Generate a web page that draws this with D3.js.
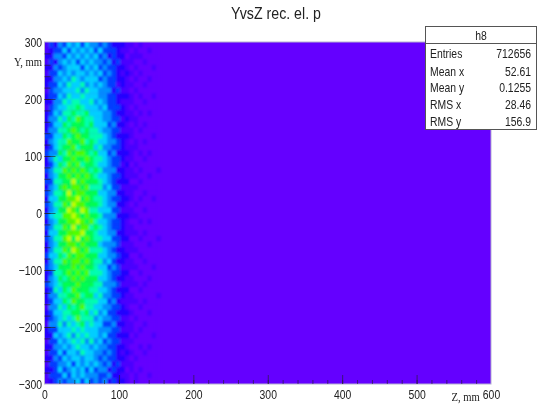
<!DOCTYPE html>
<html><head><meta charset="utf-8">
<script src="https://cdn.jsdelivr.net/npm/d3@7/dist/d3.min.js"></script>
<style>html,body{margin:0;background:#fff}svg{display:block;filter:blur(.4px)}text{font-family:"Liberation Sans",sans-serif;fill:#222}</style>
</head><body><div id="c"></div>
<script>
const titleText="YvsZ rec. el. p";
const xTicks=[0,100,200,300,400,500,600];
const yTicks=[-300,-200,-100,0,100,200,300];
const statLabels=["Entries","Mean x","Mean y","RMS x","RMS y"];
const statValues=["712656","52.61","0.1255","28.46","156.9"];
const binWidthZ=6, binHeightY=10;
// estimated colour level per bin; rows run from Y=+300 down to Y=-300, columns from Z=0 upward
const density=[
[1,3,2,4,3,5,4,5,3,5,4,4,3,4,3,2,2,2,1,1,0,1,0,0,0,0],
[1,2,3,3,5,3,5,4,5,4,5,3,5,3,3,3,2,1,1,0,1,0,0,1,0,0],
[2,2,4,4,3,5,4,5,4,5,4,5,3,4,2,3,2,2,0,1,1,1,0,0,0,0],
[1,3,2,4,5,4,5,3,5,4,5,4,4,3,4,2,3,1,1,1,0,0,1,0,0,0],
[2,2,4,3,4,5,5,5,3,5,4,5,3,4,3,3,2,2,1,0,1,0,0,0,1,0],
[1,3,3,5,4,5,4,5,5,4,5,4,5,3,4,3,2,1,2,1,0,1,0,0,0,0],
[2,2,4,4,5,4,6,5,4,5,5,5,3,4,3,3,2,2,1,0,1,0,0,1,0,0],
[2,3,3,5,4,6,5,5,6,4,5,4,5,4,3,3,1,2,1,1,0,0,1,0,0,0],
[1,3,4,4,5,5,5,6,4,6,5,5,4,4,4,2,3,1,1,0,1,0,0,0,0,0],
[2,3,3,5,4,6,5,5,6,5,5,5,4,4,3,3,2,2,2,1,0,1,0,0,1,0],
[2,2,4,4,6,5,6,6,5,5,6,4,5,4,3,3,2,1,1,1,0,0,1,0,0,0],
[1,3,4,5,5,6,6,7,6,5,5,5,4,5,3,3,3,2,1,0,1,0,0,0,0,0],
[2,3,5,4,6,6,7,6,6,7,5,5,5,4,4,3,2,2,1,1,0,1,0,1,0,0],
[2,4,4,6,5,7,6,8,7,6,6,5,5,4,4,3,3,1,2,1,1,0,0,0,0,0],
[2,3,5,5,7,6,7,7,7,6,7,5,5,5,3,4,2,2,1,0,1,0,1,0,0,0],
[2,4,4,6,6,7,8,7,6,7,6,6,5,4,4,3,3,1,1,1,0,1,0,0,0,0],
[3,3,5,5,7,6,7,8,7,7,6,6,6,5,4,3,2,2,2,1,0,0,0,0,1,0],
[2,4,5,6,6,8,7,7,8,6,7,6,5,5,4,4,3,2,1,0,1,0,1,0,0,0],
[2,3,5,6,7,7,8,6,7,7,7,5,6,4,4,3,3,2,1,1,1,0,0,0,0,0],
[3,4,4,7,6,8,7,8,8,7,6,7,5,5,3,4,2,2,2,1,0,1,0,1,0,0],
[2,4,6,5,7,7,8,7,7,8,7,6,6,5,4,3,3,2,1,1,0,0,1,0,0,0],
[2,3,5,7,6,8,7,8,6,7,7,6,5,5,4,3,3,1,2,0,1,0,0,0,0,0],
[3,4,6,6,8,7,8,7,8,7,6,7,6,4,4,4,2,2,1,1,0,1,0,0,0,1],
[2,4,5,7,7,8,7,8,7,8,7,6,5,5,4,3,3,2,1,1,1,0,0,1,0,0],
[3,3,6,6,7,7,9,7,8,7,7,7,6,5,4,3,2,2,2,0,0,1,0,0,0,0],
[2,4,5,7,8,7,8,8,7,8,6,6,6,4,5,3,3,1,1,1,1,0,0,0,0,0],
[3,4,6,6,7,9,7,8,8,7,7,7,5,5,4,4,2,2,1,1,0,0,1,0,0,0],
[2,5,5,7,7,8,8,9,7,8,7,6,6,5,4,3,3,2,2,1,0,1,0,0,1,0],
[3,4,6,6,8,7,9,8,8,7,7,7,6,5,4,4,2,2,1,0,1,0,0,0,0,0],
[2,4,5,7,7,9,8,7,9,8,6,6,5,5,5,3,3,1,1,1,0,0,1,0,0,0],
[3,5,6,6,8,8,9,8,7,8,7,7,6,4,4,4,2,2,2,1,1,0,0,0,0,0],
[2,4,5,7,7,8,8,9,8,7,8,6,5,5,4,3,3,2,1,0,0,1,0,1,0,0],
[3,4,6,6,8,7,9,7,8,8,6,7,6,5,4,3,3,2,1,1,0,0,0,0,0,0],
[2,5,5,7,7,8,8,8,9,7,7,6,5,5,4,4,2,2,1,1,1,0,1,0,0,0],
[3,4,6,6,8,9,7,9,7,8,7,6,6,5,5,3,3,2,2,0,0,1,0,0,0,1],
[2,4,5,7,7,8,8,7,8,7,7,7,5,4,4,4,3,1,1,1,0,0,0,1,0,0],
[2,4,6,6,8,7,9,8,7,8,6,6,6,5,4,3,2,2,1,1,1,0,0,0,0,0],
[3,5,5,7,6,8,7,8,8,7,7,7,5,5,4,4,3,2,2,0,0,1,0,0,0,0],
[2,4,6,6,8,7,8,8,7,8,7,6,6,4,5,3,2,2,1,1,0,0,1,0,0,0],
[3,4,5,7,7,7,8,7,8,7,7,6,5,5,3,4,3,1,1,1,1,0,0,0,1,0],
[2,3,6,6,7,8,7,8,7,8,6,6,6,5,4,3,3,2,2,0,0,1,0,0,0,0],
[2,4,5,7,6,7,8,7,8,7,7,7,5,5,4,3,2,2,1,1,0,0,0,1,0,0],
[3,4,5,6,7,7,7,8,7,7,7,6,6,4,4,4,3,1,1,1,1,0,1,0,0,0],
[2,3,6,5,7,6,8,7,7,7,6,6,5,5,4,3,2,2,2,0,0,1,0,0,0,0],
[2,4,4,6,6,7,7,8,6,7,7,5,6,4,4,3,3,2,1,1,0,0,0,0,0,1],
[2,3,5,5,7,6,8,7,7,6,6,6,5,5,3,4,2,1,1,1,1,0,1,0,0,0],
[1,4,4,6,5,7,6,7,8,6,6,5,5,4,4,3,3,2,1,0,0,1,0,0,0,0],
[2,3,5,5,6,6,7,7,6,7,5,6,4,5,3,3,2,2,2,1,0,0,0,1,0,0],
[2,3,4,5,6,5,6,8,6,6,6,4,5,4,4,3,3,1,1,0,1,0,0,0,0,0],
[1,4,4,6,4,6,5,6,7,5,6,5,5,3,3,4,2,2,1,1,0,0,1,0,0,0],
[2,3,3,5,5,5,6,5,6,5,5,5,4,4,4,3,3,1,1,1,0,1,0,0,0,0],
[2,2,5,4,5,6,4,6,5,6,5,5,4,5,3,3,2,2,2,0,1,0,0,0,1,0],
[1,3,3,5,4,5,6,5,6,4,6,4,5,3,4,3,3,1,1,1,0,0,0,0,0,0],
[2,2,4,4,5,4,5,6,5,5,4,5,4,4,3,3,2,2,1,0,0,1,0,1,0,0],
[1,3,3,5,3,5,5,4,6,5,5,4,4,3,4,3,2,1,2,1,0,0,1,0,0,0],
[2,2,4,3,5,4,5,5,4,5,5,4,3,4,3,3,2,2,1,0,1,0,0,0,0,0],
[1,3,3,4,4,5,3,5,4,5,4,5,4,3,4,2,3,1,1,1,0,0,0,0,0,0],
[2,2,3,5,3,4,5,4,5,3,5,3,4,4,2,3,2,2,0,1,0,1,0,0,0,0],
[1,3,3,3,5,3,5,4,5,4,4,4,3,3,4,2,2,1,1,0,1,0,0,1,0,0],
[1,2,3,4,3,4,4,5,3,5,3,4,3,4,2,3,2,2,1,0,1,0,0,0,0,0]
];
const levelColors=["#6400ff","#4800ff","#2400ff","#0040ff","#0090ff","#00d0ff","#00ffb0","#00ff50","#50ff00","#c0ff00"];

const W=543,H=409,L=44.5,R=491,T=42,B=384;
const svg=d3.select("#c").append("svg").attr("width",W).attr("height",H);
const x=d3.scaleLinear().domain([0,600]).range([L,R]);
const y=d3.scaleLinear().domain([-300,300]).range([B,T]);
const color=d3.scaleOrdinal().domain(d3.range(levelColors.length)).range(levelColors);

const defs=svg.append("defs");
defs.append("clipPath").attr("id","pa").append("rect").attr("x",L).attr("y",T).attr("width",R-L).attr("height",B-T);
const f=defs.append("filter").attr("id","soft").attr("x","-5%").attr("y","-5%").attr("width","110%").attr("height","110%");
f.append("feGaussianBlur").attr("stdDeviation","1.1 1.3");

const plot=svg.append("g").attr("clip-path","url(#pa)");
plot.append("rect").attr("x",L).attr("y",T).attr("width",R-L).attr("height",B-T).attr("fill",levelColors[0]);
const cells=plot.append("g").attr("filter","url(#soft)");
density.forEach((row,i)=>row.forEach((v,j)=>{
  const z0=j*binWidthZ-(j==0?binWidthZ:0), yTop=300-i*binHeightY;
  cells.append("rect")
    .attr("x",x(z0)).attr("y",y(yTop+(i==0?binHeightY:0)))
    .attr("width",x(j*binWidthZ+binWidthZ)-x(z0)+.3)
    .attr("height",y(yTop-binHeightY)-y(yTop+(i==0?binHeightY:0))+.3)
    .attr("fill",color(v));
}));
// frame
svg.append("rect").attr("x",L).attr("y",T).attr("width",R-L).attr("height",B-T).attr("fill","none").attr("stroke","#b4afd0").attr("stroke-width",1);

// minor + major ticks, drawn inward as in the reference
const gx=svg.append("g").attr("transform",`translate(0,${B})`);
gx.call(d3.axisBottom(x).tickValues(d3.range(20,600,20)).tickSize(-4).tickFormat(""));
const gxM=svg.append("g").attr("transform",`translate(0,${B})`);
gxM.call(d3.axisBottom(x).tickValues(xTicks).tickSize(-9).tickPadding(6).tickFormat(d3.format("d")));
const gy=svg.append("g").attr("transform",`translate(${L},0)`);
gy.call(d3.axisLeft(y).tickValues(d3.range(-280,300,20)).tickSize(-6).tickFormat(""));
const gyM=svg.append("g").attr("transform",`translate(${L},0)`);
gyM.call(d3.axisLeft(y).tickValues(yTicks).tickSize(-11).tickPadding(3).tickFormat(d3.format("d")));
svg.selectAll(".domain").remove();
svg.selectAll(".tick line").attr("stroke","#222").attr("stroke-opacity",.6);
gxM.selectAll(".tick").filter(d=>d==600||d==0).select("line").remove();
gyM.selectAll(".tick").filter(d=>d==300||d==-300).select("line").remove();
svg.selectAll(".tick text").attr("font-size",13).attr("fill","#222")
  .attr("transform","scale(.8,1)").style("font-family",'"Liberation Sans",sans-serif');

// titles
svg.append("text").attr("transform",`translate(276,18.5) scale(.86,1)`).attr("text-anchor","middle").attr("font-size",16.5).text(titleText);
svg.append("text").attr("transform",`translate(14,66) scale(.85,1)`).attr("font-size",12.5).style("font-family",'"Liberation Serif",serif').text("Y, mm");
svg.append("text").attr("transform",`translate(451.5,401) scale(.85,1)`).attr("font-size",12.5).style("font-family",'"Liberation Serif",serif').text("Z, mm");

// stats box
const bx=425.5,by=26.5,bw=111,bh=103;
svg.append("rect").attr("x",bx).attr("y",by).attr("width",bw).attr("height",bh).attr("fill","#fff").attr("stroke","#555");
svg.append("line").attr("x1",bx).attr("x2",bx+bw).attr("y1",43.5).attr("y2",43.5).attr("stroke","#555");
svg.append("text").attr("transform",`translate(${bx+bw/2},40) scale(.8,1)`).attr("text-anchor","middle").attr("font-size",13).text("h8");
const rowY=[58,75.5,91.5,108.5,125.5];
statLabels.forEach((s,i)=>{
  svg.append("text").attr("transform",`translate(430,${rowY[i]}) scale(.8,1)`).attr("font-size",13).text(s);
  svg.append("text").attr("transform",`translate(531,${rowY[i]}) scale(.8,1)`).attr("text-anchor","end").attr("font-size",13).text(statValues[i]);
});
</script></body></html>
